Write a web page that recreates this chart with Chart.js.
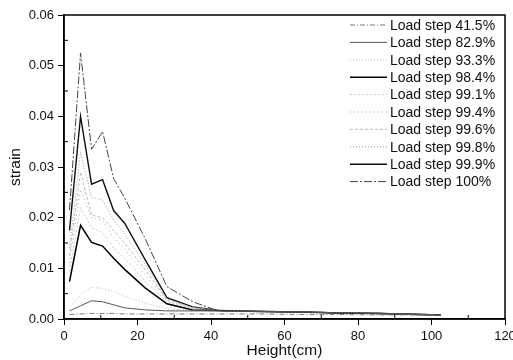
<!DOCTYPE html>
<html><head><meta charset="utf-8">
<script src="https://cdn.jsdelivr.net/npm/chart.js@4/dist/chart.umd.min.js"></script>
<style>
html,body{margin:0;padding:0;background:#fff;overflow:hidden;width:513px;height:360px}
#wrap{width:520px;height:360px}
</style></head>
<body><div id="wrap"><canvas id="c" width="520" height="360"></canvas></div>
<script>
// ---- data ----
const heights = [1.5, 4.5, 7.5, 10.5, 13.5, 16.5, 22, 28, 35, 42, 53, 64, 75, 86, 97, 102.5];
const seriesLabels = ['Load step 41.5%','Load step 82.9%','Load step 93.3%','Load step 98.4%','Load step 99.1%',
  'Load step 99.4%','Load step 99.6%','Load step 99.8%','Load step 99.9%','Load step 100%'];
const load415 = [0.0009,0.0010,0.0011,0.0011,0.0011,0.0010,0.0010,0.0010,0.0010,0.0010,0.0010,0.0009,0.0009,0.0008,0.0008,0.0007];
const load829 = [0.0016,0.0026,0.0036,0.0034,0.0028,0.0022,0.0018,0.0016,0.0016,0.0016,0.0015,0.0014,0.0012,0.0011,0.0009,0.0008];
const load933 = [0.0020,0.0048,0.0063,0.0060,0.0055,0.0045,0.0032,0.0020,0.0017,0.0016,0.0015,0.0014,0.0012,0.0011,0.0009,0.0008];
const load984 = [0.0074,0.0185,0.0151,0.0144,0.0120,0.0098,0.0062,0.0030,0.0018,0.0017,0.0015,0.0014,0.0012,0.0011,0.0009,0.0008];
const load991 = [0.0095,0.0220,0.0180,0.0170,0.0140,0.0120,0.0075,0.0034,0.0020,0.0017,0.0015,0.0014,0.0012,0.0011,0.0009,0.0008];
const load994 = [0.0110,0.0255,0.0200,0.0195,0.0160,0.0138,0.0088,0.0037,0.0021,0.0017,0.0015,0.0014,0.0012,0.0011,0.0009,0.0008];
const load996 = [0.0125,0.0290,0.0205,0.0200,0.0175,0.0150,0.0098,0.0039,0.0022,0.0017,0.0015,0.0014,0.0012,0.0011,0.0009,0.0008];
const load998 = [0.0140,0.0330,0.0240,0.0235,0.0195,0.0168,0.0108,0.0040,0.0023,0.0017,0.0015,0.0014,0.0012,0.0011,0.0009,0.0008];
const load999 = [0.0175,0.0400,0.0266,0.0275,0.0214,0.0189,0.0118,0.0042,0.0024,0.0017,0.0015,0.0014,0.0012,0.0011,0.0009,0.0008];
const load100 = [0.0215,0.0525,0.0335,0.0370,0.0277,0.0239,0.0160,0.0064,0.0034,0.0016,0.0015,0.0014,0.0012,0.0011,0.0009,0.0008];
const xTicks = [0, 20, 40, 60, 80, 100, 120];
const yTicks = [0, 0.01, 0.02, 0.03, 0.04, 0.05, 0.06];

const allSeries = [load415, load829, load933, load984, load991, load994, load996, load998, load999, load100];
const styles = [
  {c:'#777', w:1, d:[5,2,1,2]},
  {c:'#555', w:1, d:[]},
  {c:'#bbb', w:1, d:[1,2]},
  {c:'#000', w:1.5, d:[]},
  {c:'#ccc', w:1, d:[2,2]},
  {c:'#aaa', w:1, d:[1,3]},
  {c:'#bbb', w:1, d:[3,2]},
  {c:'#999', w:1, d:[1,2]},
  {c:'#111', w:1.4, d:[]},
  {c:'#444', w:1, d:[8,2,2,2]}
];

const datasets = allSeries.map((s, i) => ({
  label: seriesLabels[i],
  data: s.map((v, j) => ({x: heights[j], y: v})),
  borderColor: styles[i].c, borderWidth: styles[i].w, borderDash: styles[i].d,
  pointRadius: 0, tension: 0, fill: false
}));

const FONT = 'Liberation Sans, Arial, sans-serif';

const framePlugin = {
  id: 'frame',
  afterDraw(chart) {
    const {ctx, chartArea: a, scales: {x, y}} = chart;
    ctx.save();
    ctx.strokeStyle = '#000';
    ctx.lineWidth = 1;
    ctx.setLineDash([]);
    ctx.beginPath();
    for (let i = 0; i < xTicks.length - 1; i++) {
      const px = x.getPixelForValue((xTicks[i] + xTicks[i+1]) / 2);
      ctx.moveTo(px, a.bottom); ctx.lineTo(px, a.bottom - 4);
    }
    for (let i = 0; i < yTicks.length - 1; i++) {
      const py = y.getPixelForValue((yTicks[i] + yTicks[i+1]) / 2);
      ctx.moveTo(a.left, py); ctx.lineTo(a.left + 4, py);
    }
    ctx.stroke();
    ctx.lineWidth = 1.5;
    ctx.strokeRect(a.left, a.top, a.right - a.left, a.bottom - a.top);

    // legend
    const tx = a.right - 115;
    let ty = a.top + 10;
    ctx.font = '14px ' + FONT;
    ctx.textBaseline = 'middle';
    ctx.textAlign = 'left';
    chart.data.datasets.forEach(ds => {
      ctx.strokeStyle = ds.borderColor;
      ctx.lineWidth = ds.borderWidth;
      ctx.setLineDash(ds.borderDash || []);
      ctx.beginPath();
      ctx.moveTo(tx - 40, ty); ctx.lineTo(tx - 3, ty);
      ctx.stroke();
      ctx.fillStyle = '#111';
      ctx.fillText(ds.label, tx, ty + 1);
      ty += 17.4;
    });
    ctx.restore();
  }
};

new Chart(document.getElementById('c'), {
  type: 'line',
  data: {datasets},
  options: {
    responsive: false, animation: false, devicePixelRatio: 1,
    layout: {padding: {top: 15, right: 15, left: 0, bottom: 0}},
    plugins: {legend: {display: false}, tooltip: {enabled: false}},
    scales: {
      x: {
        type: 'linear', min: 0, max: 120,
        afterBuildTicks: s => { s.ticks = xTicks.map(v => ({value: v})); },
        afterFit: s => { s.height = 41; },
        ticks: {font: {family: FONT, size: 13}, color: '#111', padding: 4, maxRotation: 0},
        grid: {drawOnChartArea: false, color: '#000', tickLength: 6},
        border: {color: '#000', width: 1.5},
        title: {display: true, text: 'Height(cm)', font: {family: FONT, size: 15.5}, color: '#111', padding: {top: 0, bottom: 0}}
      },
      y: {
        min: 0, max: 0.06,
        afterBuildTicks: s => { s.ticks = yTicks.map(v => ({value: v})); },
        afterFit: s => { s.width = 64; },
        ticks: {font: {family: FONT, size: 13}, color: '#111', padding: 4, callback: v => v.toFixed(2)},
        grid: {drawOnChartArea: false, color: '#000', tickLength: 6},
        border: {color: '#000', width: 1.5},
        title: {display: true, text: 'strain', font: {family: FONT, size: 15.5}, color: '#111', padding: {top: 6, bottom: 0}}
      }
    }
  },
  plugins: [framePlugin]
});
</script>
</body></html>
